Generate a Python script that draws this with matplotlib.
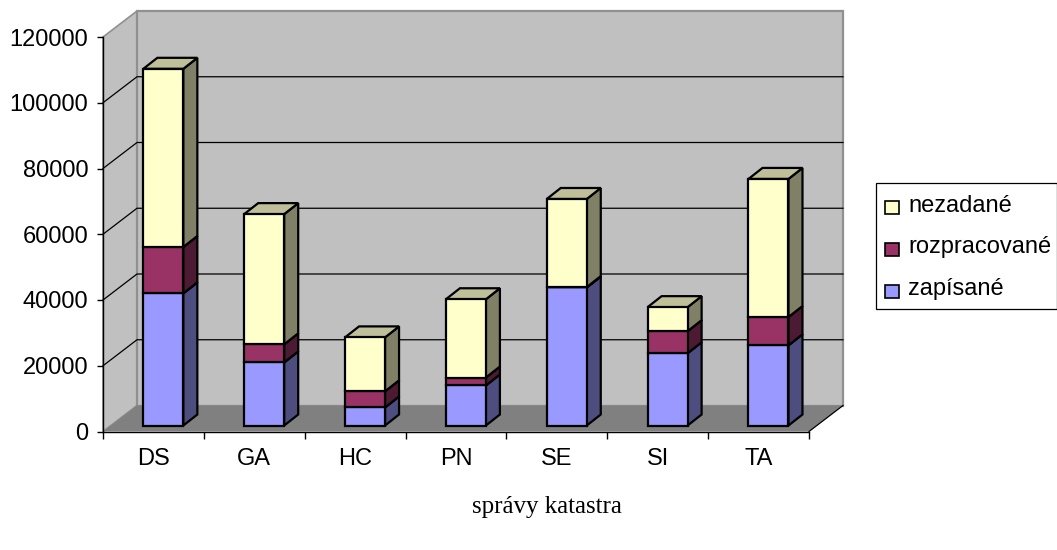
import numpy as np
import matplotlib
matplotlib.use("Agg")
import matplotlib.pyplot as plt
from matplotlib.patches import Polygon, Rectangle
from matplotlib.transforms import Affine2D

plt.rcParams['font.family'] = ['Liberation Sans', 'DejaVu Sans']

spravy = ["DS", "GA", "HC", "PN", "SE", "SI", "TA"]
zapisane = [40200, 19200, 5500, 12200, 42000, 22000, 24400]
rozpracovane = [14100, 5500, 4900, 2400, 100, 6700, 8600]
nezadane = [54200, 39600, 16400, 23800, 26800, 7300, 42000]

W, H = 1057, 550
fig = plt.figure(figsize=(W/100, H/100), dpi=100)
# pixel box of the front plane of the chart
left, right, bottom, top = 103, 809, 431.5, 37
ax = fig.add_axes([left/W, 1-bottom/H, (right-left)/W, (bottom-top)/H])
ax.set_xlim(0, 7)
ax.set_ylim(0, 120000)
ax.patch.set_visible(False)

px_x = 7/(right-left)
px_y = 120000/(bottom-top)

# walls and floor, depth is 34 px right and 26 px up
DX, DY = 34*px_x, 26*px_y
wall_col = "#C0C0C0"
ax.add_patch(Polygon([(0, 0), (0, 120000), (DX, 120000+DY), (DX, DY)], fc=wall_col, ec="#909090", lw=1.2, zorder=1, clip_on=False))
ax.add_patch(Polygon([(DX, DY), (DX, 120000+DY), (7+DX, 120000+DY), (7+DX, DY)], fc=wall_col, ec="#909090", lw=1.6, zorder=1, clip_on=False))
ax.add_patch(Polygon([(0, 0), (DX, DY), (7+DX, DY), (7, 0)], fc="#808080", ec="none", zorder=1.5, clip_on=False))
ax.plot([7, 7+DX], [0, DY], color="black", lw=0.9, zorder=1.6, clip_on=False)

for v in range(20000, 120000, 20000):
    ax.plot([0, DX, 7+DX], [v, v+DY, v+DY], color="black", lw=0.9, zorder=2, clip_on=False)

# bars sit 6 px above the front plane, 14 px deep
front = ax.transData + Affine2D().translate(0, 6)
dx, dy = 14*px_x, 11*px_y
barw = 40*px_x
colors = [("#9999FF", "#4D4D80", "#7373BF"),
          ("#993366", "#4D1A33", "#73264D"),
          ("#FFFFCC", "#808066", "#BFBF99")]
series = [zapisane, rozpracovane, nezadane]

pos = np.arange(len(spravy)) + 0.4 + barw/2
base = np.zeros(len(spravy))
z = 3
for vals, (c_f, c_s, c_t) in zip(series, colors):
    vals = np.array(vals)
    ax.bar(pos, vals, barw, bottom=base, color=c_f, edgecolor="black", linewidth=1.6, transform=front, zorder=z+0.5, clip_on=False)
    for p, b, v in zip(pos, base, vals):
        x1 = p + barw/2
        x0 = p - barw/2
        t = b + v
        ax.add_patch(Polygon([(x1, b), (x1+dx, b+dy), (x1+dx, t+dy), (x1, t)], fc=c_s, ec="black", lw=1.6, transform=front, zorder=z, clip_on=False))
        ax.add_patch(Polygon([(x0, t), (x0+dx, t+dy), (x1+dx, t+dy), (x1, t)], fc=c_t, ec="black", lw=1.6, transform=front, zorder=z, clip_on=False))
    base = base + vals
    z += 1

for s in ["top", "right"]:
    ax.spines[s].set_visible(False)
for s in ["left", "bottom"]:
    ax.spines[s].set_zorder(2.5)
    ax.spines[s].set_linewidth(1)

ax.set_yticks(range(0, 120001, 20000))
ax.set_xticks(range(8))
ax.set_xticklabels([])
ax.set_xticks(np.arange(7)+0.5, spravy, minor=True)
ax.tick_params(axis="x", which="minor", length=0, labelsize=17, pad=12)
ax.tick_params(axis="x", which="major", length=5, width=1)
ax.tick_params(axis="y", length=4.5, width=1, labelsize=17, pad=6)

fig.text(547/W, 1-507/H, "správy katastra", family=["Liberation Serif"], fontsize=18, ha="center", va="center")

# legend box
def figbox(x0, y0, x1, y1, **kw):
    fig.add_artist(Rectangle((x0/W, 1-y1/H), (x1-x0)/W, (y1-y0)/H, transform=fig.transFigure, **kw))

figbox(876, 183, 1056.5, 309, fc="white", ec="black", lw=0.9)
names = ["nezadané", "rozpracované", "zapísané"]
legend_cols = ["#FFFFCC", "#993366", "#9999FF"]
for name, col, yy in zip(names, legend_cols, [204, 246, 288]):
    figbox(885, yy-3, 899, yy+10, fc=col, ec="black", lw=1.2)
    fig.text(908/W, 1-(yy+1.5)/H, name, fontsize=17, va="center", ha="left")

fig.savefig("out.png", dpi=100)
